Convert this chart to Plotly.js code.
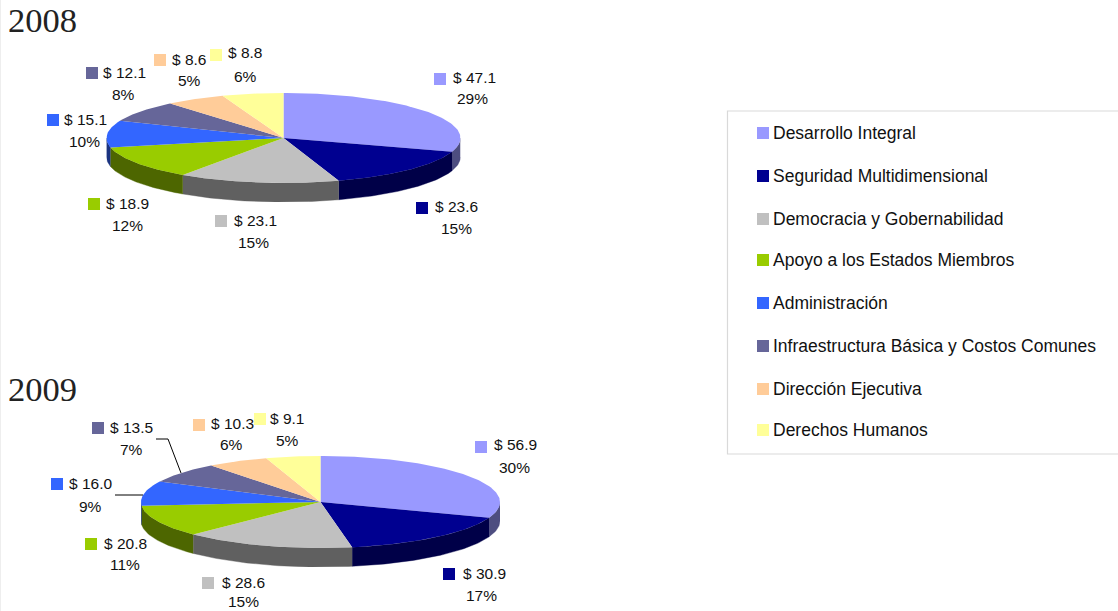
<!DOCTYPE html>
<html>
<head>
<meta charset="utf-8">
<script src="https://cdn.plot.ly/plotly-3.0.1.min.js"></script>
<style>html,body{margin:0;padding:0;background:#fff}#chart{width:1118px;height:611px}</style>
</head>
<body>
<div id="chart"></div>
<script>
// ---- data ----
const categories = ["Desarrollo Integral","Seguridad Multidimensional","Democracia y Gobernabilidad","Apoyo a los Estados Miembros","Administración","Infraestructura Básica y Costos Comunes","Dirección Ejecutiva","Derechos Humanos"];
const values2008 = [47.1,23.6,23.1,18.9,15.1,12.1,8.6,8.8];
const values2009 = [56.9,30.9,28.6,20.8,16.0,13.5,10.3,9.1];
const percent2008 = [29,15,15,12,10,8,5,6];
const percent2009 = [30,17,15,11,9,7,6,5];

// ---- styles ----
const topColors  = ["#9999ff","#000090","#c0c0c0","#99cc00","#3366ff","#666699","#ffcc99","#ffff99"];
const wallColors = ["#4d4d80","#000048","#606060","#4d6600","#1a3380","#333350","#806650","#808050"];
const W = 1118, H = 611;
const FONT = "Liberation Sans, Arial, sans-serif";

// ---- layout geometry (page pixels) ----
const pie2008 = {cx:283.5, cy:138, rx:177, ry:45, depth:19};
const pie2009 = {cx:320.5, cy:502, rx:179.5, ry:46, depth:19};
// [key left, key top, value-label centre x, value y, percent centre x, percent y]
const place2008 = [[434,73,474,77,472,99],[416,202,456,207,456,229],[215,215,255,220,253,242],[88,198,127,203,127,225],
                   [47,114,85,119,84,141],[86,67,124,72,123,95],[154,54,189,59,189,81],[210,49,245,53,245,76]];
const place2009 = [[475,441,515,445,514,467],[443,568,484,573,481,595],[202,577,243,582,243,601],[85,538,125,543,125,564],
                   [51,478,90,483,90,506],[92,422,131,427,131,449],[193,419,232,423,231,445],[254,413,287,418,287,440]];
const legendRows = [133,176,219,260,303,346,389,430];

const px = x => x / W, py = y => 1 - y / H;

function wedges(values, pie, xa, ya, name) {
  const total = values.reduce((a, b) => a + b, 0);
  const d = pie.depth / pie.ry;
  const walls = [], tops = [];
  let acc = 0;
  values.forEach((v, i) => {
    const a0 = acc / total * 360, a1 = (acc + v) / total * 360;
    acc += v;
    const arc = (from, to, dy) => {
      const n = Math.max(2, Math.ceil(Math.abs(to - from))), xs = [], ys = [];
      for (let k = 0; k <= n; k++) {
        const t = (from + (to - from) * k / n) * Math.PI / 180;
        xs.push(Math.sin(t)); ys.push(Math.cos(t) + dy);
      }
      return [xs, ys];
    };
    const hover = categories[i] + " " + name + ": $" + v.toFixed(1);
    const f0 = Math.max(a0, 90), f1 = Math.min(a1, 270);
    if (f1 > f0) {
      const [ux, uy] = arc(f0, f1, 0), [lx, ly] = arc(f1, f0, -d);
      walls.push({type:"scatter", mode:"lines", xaxis:xa, yaxis:ya, x:ux.concat(lx), y:uy.concat(ly), fill:"toself",
        fillcolor:wallColors[i], line:{color:wallColors[i], width:0.4}, hoverinfo:"text", text:hover, showlegend:false});
    }
    const [tx, ty] = arc(a0, a1, 0);
    tops.push({type:"scatter", mode:"lines", xaxis:xa, yaxis:ya, x:[0].concat(tx), y:[0].concat(ty), fill:"toself",
      fillcolor:topColors[i], line:{color:topColors[i], width:0}, hoverinfo:"text", text:hover, showlegend:false});
  });
  return walls.concat(tops);
}

function axes(pie) {
  const d = pie.depth / pie.ry;
  return {
    x:{visible:false, range:[-1,1], domain:[px(pie.cx - pie.rx), px(pie.cx + pie.rx)], fixedrange:true},
    y:{visible:false, range:[-1 - d, 1], domain:[py(pie.cy + pie.ry + pie.depth), py(pie.cy - pie.ry)], fixedrange:true}
  };
}

const annotations = [], shapes = [];
const text = (t, x, y, size, opts) => annotations.push(Object.assign({
  text:t, xref:"paper", yref:"paper", x:px(x), y:py(y), xanchor:"center", yanchor:"middle",
  showarrow:false, font:{family:FONT, size:size, color:"#111"}}, opts || {}));
const key = (x, y, c) => shapes.push({type:"rect", xref:"paper", yref:"paper", x0:px(x), x1:px(x+12), y0:py(y+12), y1:py(y),
  fillcolor:c, line:{width:0}});

function labels(values, percents, place) {
  values.forEach((v, i) => {
    const p = place[i];
    key(p[0], p[1], topColors[i]);
    text("$ " + v.toFixed(1), p[2], p[3], 15.5);
    text(percents[i] + "%", p[4], p[5], 15.5);
  });
}
labels(values2008, percent2008, place2008);
labels(values2009, percent2009, place2009);

// years
[["2008",6,20],["2009",6,389]].forEach(r => text(r[0], r[1], r[2], 34.5,
  {xanchor:"left", font:{family:"Liberation Serif, Times New Roman, serif", size:34.5, color:"#222"}}));

// leader lines of the 2009 pie
const leader = pts => shapes.push({type:"path", xref:"paper", yref:"paper",
  path:pts.map((p, i) => (i ? "L" : "M") + px(p[0]) + "," + py(p[1])).join(" "), line:{color:"#000", width:1}});
leader([[156,439],[168,439],[181,473]]);
leader([[115,495],[143,495]]);

// legend box and faint page edge
shapes.push({type:"rect", xref:"paper", yref:"paper", x0:px(727.5), x1:px(1130), y0:py(454), y1:py(111),
  line:{color:"#d9d9d9", width:1.2}, fillcolor:"rgba(0,0,0,0)"});
shapes.push({type:"line", xref:"paper", yref:"paper", x0:px(0.5), x1:px(0.5), y0:0, y1:1, line:{color:"#eeeeee", width:1}});
categories.forEach((c, i) => {
  key(757, legendRows[i] - 6, topColors[i]);
  text(c, 771, legendRows[i], 17.5, {xanchor:"left"});
});

const a8 = axes(pie2008), a9 = axes(pie2009);
Plotly.newPlot("chart",
  wedges(values2008, pie2008, "x", "y", "2008").concat(wedges(values2009, pie2009, "x2", "y2", "2009")),
  {width:W, height:H, margin:{l:0,r:0,t:0,b:0}, paper_bgcolor:"#fff", plot_bgcolor:"#fff", showlegend:false,
   xaxis:a8.x, yaxis:a8.y, xaxis2:Object.assign(a9.x,{anchor:"y2"}), yaxis2:Object.assign(a9.y,{anchor:"x2"}),
   annotations:annotations, shapes:shapes},
  {displayModeBar:false, responsive:false});
</script>
</body>
</html>
